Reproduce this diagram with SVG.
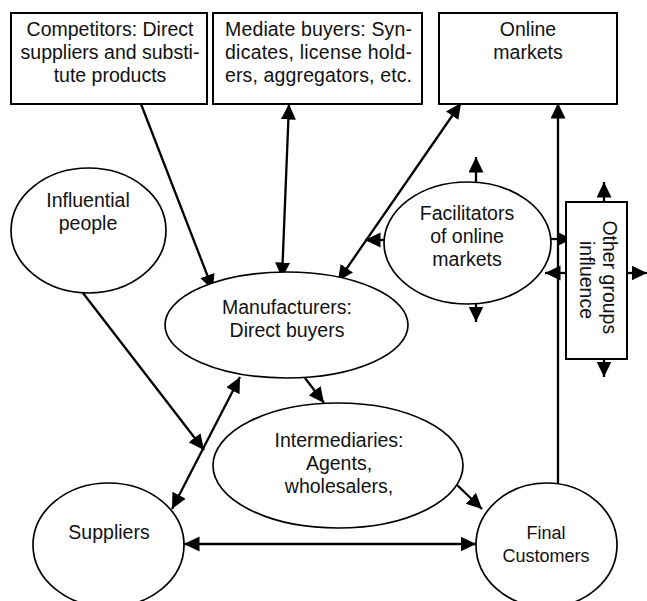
<svg xmlns="http://www.w3.org/2000/svg" width="647" height="601" viewBox="0 0 647 601">
  <style>
    .box { fill: #fff; stroke: #000; stroke-width: 2; }
    .oval { fill: #fff; stroke: #000; stroke-width: 1.7; }
    .lbl { font-family: "Liberation Sans", Arial, sans-serif; font-size: 19.5px; fill: #111; text-anchor: middle; }
    .small { font-size: 18px; }
    .just { text-anchor: start; }
    .edge { fill: none; stroke: #000; stroke-width: 2.3; }
  </style>
  <defs>
    <marker id="head" markerUnits="userSpaceOnUse" markerWidth="17" markerHeight="16" refX="15.5" refY="7.5" orient="auto-start-reverse">
      <path d="M0,0 L15.5,7.5 L0,15 z" fill="#000"/>
    </marker>
  </defs>
  <rect width="647" height="601" fill="#fff"/>

  <!-- connectors -->
  <g id="connectors">
    <line class="edge" x1="141" y1="104" x2="213" y2="290" marker-end="url(#head)"/>
    <line class="edge" x1="289" y1="104" x2="282" y2="278" marker-start="url(#head)" marker-end="url(#head)"/>
    <line class="edge" x1="461" y1="103" x2="338" y2="281" marker-start="url(#head)" marker-end="url(#head)"/>
    <line class="edge" x1="558" y1="490" x2="558" y2="103" marker-end="url(#head)"/>
    <line class="edge" x1="83" y1="293" x2="204" y2="450" marker-end="url(#head)"/>
    <line class="edge" x1="240" y1="377" x2="172" y2="509" marker-start="url(#head)" marker-end="url(#head)"/>
    <line class="edge" x1="305" y1="378" x2="324" y2="403" marker-end="url(#head)"/>
    <line class="edge" x1="455" y1="483" x2="482" y2="509" marker-end="url(#head)"/>
    <line class="edge" x1="184" y1="544" x2="476" y2="544" marker-start="url(#head)" marker-end="url(#head)"/>
    <!-- facilitators: outward stubs -->
    <line class="edge" x1="476" y1="182" x2="476" y2="157" marker-end="url(#head)"/>
    <line class="edge" x1="476" y1="304" x2="476" y2="322" marker-end="url(#head)"/>
    <line class="edge" x1="384" y1="240" x2="365" y2="240" marker-end="url(#head)"/>
    <line class="edge" x1="551" y1="239" x2="572" y2="239" marker-end="url(#head)"/>
    <!-- other groups: outward stubs -->
    <line class="edge" x1="604" y1="202" x2="604" y2="182" marker-end="url(#head)"/>
    <line class="edge" x1="604" y1="359" x2="604" y2="377" marker-end="url(#head)"/>
    <line class="edge" x1="627" y1="273" x2="647" y2="273" marker-end="url(#head)"/>
    <line class="edge" x1="566" y1="273" x2="545" y2="273" marker-end="url(#head)"/>
  </g>

  <g id="competitors">
    <rect class="box" x="11" y="13" width="196" height="91"/>
    <text class="lbl" x="110" y="36">Competitors: Direct</text>
    <text class="lbl" x="110" y="59">suppliers and substi-</text>
    <text class="lbl" x="110" y="82">tute products</text>
  </g>

  <g id="mediate-buyers">
    <rect class="box" x="213" y="13" width="209" height="91"/>
    <text class="lbl just" x="225" y="36" textLength="187" lengthAdjust="spacing">Mediate buyers: Syn-</text>
    <text class="lbl just" x="225" y="59" textLength="187" lengthAdjust="spacing">dicates, license hold-</text>
    <text class="lbl just" x="225" y="82" textLength="187" lengthAdjust="spacing">ers, aggregators, etc.</text>
  </g>

  <g id="online-markets">
    <rect class="box" x="439" y="13" width="178" height="91"/>
    <text class="lbl" x="528" y="36">Online</text>
    <text class="lbl" x="528" y="59">markets</text>
  </g>

  <g id="influential-people">
    <ellipse class="oval" cx="88.5" cy="230.5" rx="77.5" ry="62.5"/>
    <text class="lbl" x="88" y="207">Influential</text>
    <text class="lbl" x="88" y="230">people</text>
  </g>

  <g id="manufacturers">
    <ellipse class="oval" cx="286.5" cy="325" rx="121.5" ry="53"/>
    <text class="lbl" x="287" y="314">Manufacturers:</text>
    <text class="lbl" x="287" y="337">Direct buyers</text>
  </g>

  <g id="facilitators">
    <ellipse class="oval" cx="467.5" cy="243" rx="83.5" ry="61"/>
    <text class="lbl" x="467" y="220">Facilitators</text>
    <text class="lbl" x="467" y="243">of online</text>
    <text class="lbl" x="467" y="266">markets</text>
  </g>

  <g id="other-groups">
    <rect class="box" x="566" y="202" width="61" height="157"/>
    <text class="lbl" transform="translate(603,280) rotate(90)">
      <tspan x="0" y="0">Other groups</tspan>
      <tspan x="0" dy="23">influence</tspan>
    </text>
  </g>

  <g id="intermediaries">
    <ellipse class="oval" cx="338" cy="465.5" rx="125" ry="62.5"/>
    <text class="lbl" x="339" y="447">Intermediaries:</text>
    <text class="lbl" x="339" y="470">Agents,</text>
    <text class="lbl" x="339" y="493">wholesalers,</text>
  </g>

  <g id="suppliers">
    <ellipse class="oval" cx="108.5" cy="545" rx="75.5" ry="62"/>
    <text class="lbl" x="109" y="539">Suppliers</text>
  </g>

  <g id="final-customers">
    <ellipse class="oval" cx="546.5" cy="545" rx="70.5" ry="62"/>
    <text class="lbl small" x="546" y="539">Final</text>
    <text class="lbl small" x="546" y="562">Customers</text>
  </g>
</svg>
